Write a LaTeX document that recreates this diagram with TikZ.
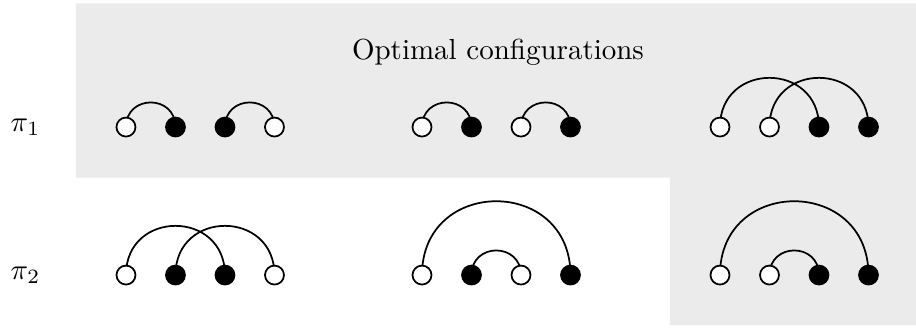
\documentclass[tikz,border=0pt]{standalone}
\usetikzlibrary{backgrounds}

\tikzset{
  wt/.style={circle, draw, fill=white, line width=0.6pt, inner sep=0pt, minimum size=0.23cm},
  bk/.style={wt, fill=black},
  link/.style={line width=0.6pt, out=90, in=90, looseness=1.7},
}

\begin{document}
\begin{tikzpicture}
	%%%%% frame %%%%%
	\useasboundingbox (0,0) rectangle (11.103,3.964);
	
	\node (title) at (6.036,3.245) [anchor=base] {Optimal configurations};
	\node (pi1) at (0.309,2.424) {$\pi_1$};
	\node (pi2) at (0.309,0.630) {$\pi_2$};
	
	%%%%% pi_1 row %%%%%
	\foreach \c [count=\i] in {wt,bk,bk,wt}
		\node[\c] (a\i) at ({1.527+0.6*(\i-1)},2.424) {};
	\foreach \c [count=\i] in {wt,bk,wt,bk}
		\node[\c] (b\i) at ({5.115+0.6*(\i-1)},2.424) {};
	\foreach \c [count=\i] in {wt,wt,bk,bk}
		\node[\c] (c\i) at ({8.727+0.6*(\i-1)},2.424) {};
	
	%%%%% pi_2 row %%%%%
	\foreach \c [count=\i] in {wt,bk,bk,wt}
		\node[\c] (d\i) at ({1.527+0.6*(\i-1)},0.630) {};
	\foreach \c [count=\i] in {wt,bk,wt,bk}
		\node[\c] (e\i) at ({5.115+0.6*(\i-1)},0.630) {};
	\foreach \c [count=\i] in {wt,wt,bk,bk}
		\node[\c] (f\i) at ({8.727+0.6*(\i-1)},0.630) {};
	
	\begin{pgfonlayer}{background}
		% shaded optimal ones
		\fill[black!8] (0.921,3.924) -- (11.103,3.924) -- (11.103,0.024)
			-- (8.121,0.024) -- (8.121,1.810) -- (0.921,1.810) -- cycle;
		
		% arcs
		\draw[link] (a1.center) to (a2.center);
		\draw[link] (a3.center) to (a4.center);
		\draw[link] (b1.center) to (b2.center);
		\draw[link] (b3.center) to (b4.center);
		\draw[link] (c1.center) to (c3.center);
		\draw[link] (c2.center) to (c4.center);
		
		\draw[link] (d1.center) to (d3.center);
		\draw[link] (d2.center) to (d4.center);
		\draw[link] (e1.center) to (e4.center);
		\draw[link] (e2.center) to (e3.center);
		\draw[link] (f1.center) to (f4.center);
		\draw[link] (f2.center) to (f3.center);
	\end{pgfonlayer}
\end{tikzpicture}
\end{document}
